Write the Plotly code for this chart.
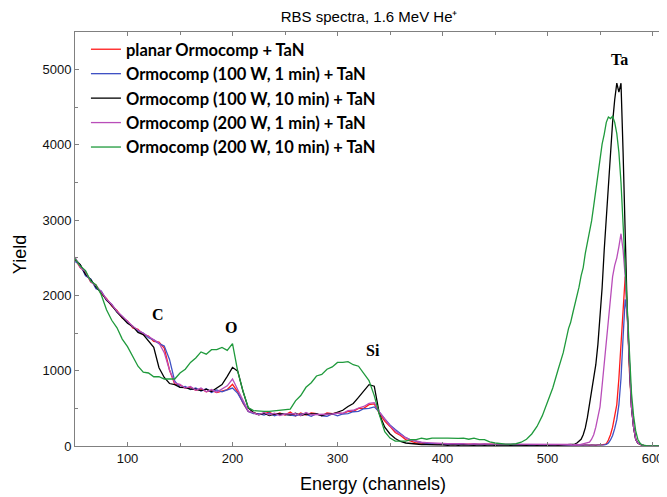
import plotly.graph_objects as go

channels = list(range(50, 520, 5)) + list(range(520, 596, 2)) + [600, 605, 610]

planar = [
    2480, 2370, 2310, 2180, 2140, 2020, 1960, 1860, 1800, 1700,
    1660, 1570, 1550, 1480, 1460, 1390, 1380, 1300, 1010, 820,
    810, 770, 780, 740, 760, 720, 740, 710, 730, 750,
    820, 720, 570, 460, 440, 420, 430, 450, 410, 440,
    410, 450, 400, 440, 410, 440, 430, 400, 440, 430,
    440, 430, 460, 460, 500, 500, 550, 560, 430, 330,
    260, 180, 140, 85, 65, 40, 40, 25, 30, 25,
    20, 25, 20, 30, 20, 25, 20, 15, 20, 25,
    20, 15, 20, 15, 20, 15, 10, 15, 10, 15,
    10, 15, 10, 15,
    10, 10, 15, 10, 10, 15, 10, 10, 15, 10,
    10, 15, 10, 10, 15, 10, 15, 20, 30, 80,
    150, 250, 380, 550, 900, 1350, 1800, 2250, 1800, 1000,
    520, 250, 90, 40, 20, 10, 5, 5,
    5, 0, 0,
]

w100_1 = [
    2450, 2410, 2260, 2220, 2090, 2060, 1940, 1880, 1780, 1720,
    1640, 1590, 1530, 1500, 1440, 1410, 1360, 1330, 1150, 860,
    780, 790, 750, 770, 730, 760, 710, 745, 720, 745,
    770, 700, 570, 460, 430, 430, 410, 440, 400, 425,
    420, 410, 400, 425, 420, 395, 430, 400, 395, 425,
    400, 425, 430, 455, 460, 495, 500, 520, 450, 360,
    280, 220, 160, 110, 80, 60, 45, 35, 30, 25,
    25, 20, 25, 20, 20, 15, 20, 20, 15, 15,
    15, 20, 15, 10, 15, 15, 10, 10, 15, 10,
    10, 10, 15, 10,
    10, 15, 10, 10, 15, 10, 10, 15, 10, 10,
    15, 10, 10, 15, 10, 10, 15, 15, 20, 40,
    80, 140, 230, 350, 550, 900, 1450, 1950, 1750, 1100,
    520, 250, 90, 40, 20, 10, 5, 5,
    0, 0, 0,
]

w100_10 = [
    2480, 2410, 2280, 2210, 2110, 2040, 1940, 1870, 1780, 1710,
    1630, 1590, 1510, 1480, 1390, 1310, 1040, 910, 830, 815,
    780, 775, 755, 755, 735, 755, 725, 765, 815, 925,
    1045, 995, 725, 505, 445, 415, 435, 405, 425, 425,
    415, 415, 435, 405, 425, 425, 425, 405, 425, 425,
    455, 475, 525, 565, 645, 725, 815, 795, 420, 250,
    160, 100, 60, 40, 30, 25, 20, 20, 15, 15,
    15, 10, 15, 10, 15, 10, 10, 15, 10, 15,
    10, 15, 10, 10, 15, 10, 10, 15, 10, 15,
    10, 15, 10, 15,
    15, 20, 20, 25, 40, 60, 90, 150, 240, 380,
    550, 700, 880, 1080, 1350, 1700, 2100, 2600, 3050, 3400,
    3850, 4300, 4600, 4820, 4700, 4820, 3900, 2740, 1750, 1100,
    520, 250, 90, 40, 20, 10, 5, 5,
    0, 0, 0,
]

w200_1 = [
    2510, 2370, 2320, 2180, 2130, 2050, 1950, 1880, 1790, 1720,
    1650, 1590, 1540, 1500, 1450, 1410, 1370, 1240, 1010, 840,
    820, 770, 790, 740, 770, 720, 750, 715, 760, 800,
    890, 750, 590, 465, 440, 415, 445, 415, 435, 405,
    425, 425, 430, 405, 445, 415, 415, 425, 425, 425,
    435, 435, 470, 475, 505, 525, 565, 575, 450, 360,
    270, 200, 150, 110, 80, 60, 50, 45, 40, 35,
    35, 30, 30, 35, 30, 25, 30, 25, 30, 25,
    25, 30, 25, 20, 25, 20, 25, 20, 20, 25,
    20, 25, 20, 20,
    20, 20, 15, 20, 20, 15, 20, 25, 30, 35,
    50, 90, 150, 250, 370, 520, 800, 1100, 1400, 1700,
    2000, 2250, 2400, 2500, 2650, 2820, 2600, 2250, 1700, 1100,
    520, 250, 90, 40, 20, 10, 5, 5,
    0, 0, 0,
]

w200_10 = [
    2490, 2390, 2330, 2190, 2140, 2010, 1810, 1670, 1570, 1420,
    1320, 1190, 1060, 980, 970, 920, 920, 890, 890, 890,
    970, 1020, 1110, 1170, 1250, 1220, 1280, 1280, 1310, 1270,
    1360, 990, 730, 510, 470, 460, 460, 460, 470, 470,
    480, 490, 600, 670, 780, 840, 930, 950, 1020, 1050,
    1110, 1110, 1120, 1080, 1060, 960, 870, 670, 410, 190,
    105, 65, 65, 65, 85, 85, 105, 90, 105, 100,
    105, 105, 100, 100, 105, 90, 105, 85, 85, 55,
    40, 30, 25, 25, 30, 50, 90, 160, 260, 400,
    590, 770, 1010, 1240,
    1560, 1640, 1760, 1870, 2010, 2110, 2260, 2370, 2560, 2690,
    2860, 2990, 3190, 3390, 3610, 3840, 4010, 4140, 4300, 4370,
    4350, 4380, 4300, 4150, 3900, 3500, 2900, 2300, 1700, 1100,
    700, 400, 200, 90, 40, 15, 5, 5,
    0, 0, 0,
]

series_names = [
    "planar Ormocomp + TaN",
    "Ormocomp (100 W, 1 min) + TaN",
    "Ormocomp (100 W, 10 min) + TaN",
    "Ormocomp (200 W, 1 min) + TaN",
    "Ormocomp (200 W, 10 min) + TaN",
]
series_values = [planar, w100_1, w100_10, w200_1, w200_10]
series_colors = ["#ff1a1a", "#3f51c4", "#000000", "#b94db9", "#1f9a3c"]

peak_labels = ["C", "O", "Si", "Ta"]
peak_x = [129, 198.6, 334, 569]
peak_y = [1742, 1569, 1263, 5133]

fig = go.Figure()
for name, vals, col in zip(series_names, series_values, series_colors):
    assert len(vals) == len(channels), (name, len(vals))
    fig.add_trace(go.Scatter(x=channels, y=vals, mode="lines", name=name,
                             line=dict(color=col, width=1.3)))

for lab, px_, py_ in zip(peak_labels, peak_x, peak_y):
    fig.add_annotation(x=px_, y=py_, text="<b>%s</b>" % lab, showarrow=False,
                       font=dict(family="Liberation Serif", size=16, color="#000"))

# axis titles
fig.add_annotation(xref="paper", yref="paper", x=-0.0935, y=0.461, text="Yield",
                   textangle=-90, showarrow=False, xanchor="center", yanchor="middle",
                   font=dict(family="Liberation Sans", size=18, color="#000"))
fig.add_annotation(xref="paper", yref="paper", x=0.507, y=-0.0918, text="Energy (channels)",
                   showarrow=False, xanchor="center", yanchor="middle",
                   font=dict(family="Liberation Sans", size=18, color="#000"))

axis_common = dict(showline=True, linecolor="#808080", linewidth=1, mirror="ticks",
                   ticks="inside", ticklen=4, tickcolor="#808080", showgrid=False,
                   zeroline=False, automargin=False,
                   tickfont=dict(family="Liberation Sans", size=13, color="#111"))

fig.update_xaxes(range=[50, 610], tickvals=[100, 200, 300, 400, 500, 600],
                 minor=dict(dtick=50, ticks="inside", ticklen=3, tickcolor="#808080", tick0=0),
                 **axis_common)
fig.update_yaxes(range=[0, 5500], tickvals=[0, 1000, 2000, 3000, 4000, 5000],
                 minor=dict(dtick=500, ticks="inside", ticklen=3, tickcolor="#808080", tick0=0),
                 **axis_common)

# the page body adds an 8px offset; the figure is sized to fill the rest of the window
fig.update_layout(
    width=659, height=489,
    margin=dict(l=67, r=4, t=24, b=51),
    paper_bgcolor="white", plot_bgcolor="white",
    title=dict(text="RBS spectra, 1.6 MeV He\u207a", x=0.548, xanchor="center", y=0.982, yanchor="middle",
               font=dict(family="Liberation Sans", size=15, color="#000")),
    legend=dict(x=0.0186, y=1.0, xanchor="left", yanchor="top", bgcolor="rgba(0,0,0,0)",
                font=dict(family="Lato", size=16.5, color="#000", weight="bold"), itemwidth=30),
    showlegend=True,
)

fig.write_html("out.html")
